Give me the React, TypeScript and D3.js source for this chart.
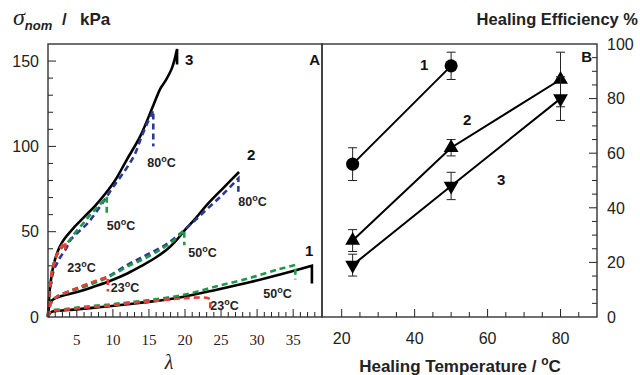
import { useEffect, useRef } from 'react'
import * as d3 from 'd3'

type Pt = [number, number]

// Panel A: nominal stress (kPa) vs stretch λ
const black1: Pt[] = [[1, 0], [1.2, 1.8], [1.5, 3], [3, 3.8], [4.5, 4.3], [7.5, 5.5], [9.2, 6.2], [12, 7.5], [15.2, 9], [19.8, 11.9], [24.4, 16], [29.1, 20.5], [33.7, 25.5], [37.6, 30]]
const black1Drop = 19.7
const green1: Pt[] = [[1, 0], [1.2, 2.5], [1.5, 3.8], [3, 4.5], [6, 6], [9.2, 7.2], [12, 8.5], [15.2, 10], [19.8, 13], [24.4, 18], [29.1, 23], [33, 28], [35.3, 30.5]]
const green1Drop = 22
const red1: Pt[] = [[1, 0], [1.2, 2.5], [1.5, 3.5], [3, 4], [6, 5.5], [9.2, 6.5], [12, 8], [15.2, 9.2], [19.8, 11], [23, 11.3], [23.5, 10.5]]
const red1Drop = 5

const black2: Pt[] = [[1, 0], [1.15, 6], [1.4, 9], [2, 11], [3, 12.5], [4.5, 14], [6, 15.8], [7.5, 18], [9.5, 21], [12, 25.5], [14, 30], [16, 35], [17.5, 39.5], [18.6, 44], [20, 51], [21.5, 58], [23.1, 66], [25.4, 76], [27.5, 85]]
const blue2: Pt[] = [[1, 0], [1.3, 7], [1.7, 10], [2.5, 12.5], [4.5, 16], [6.85, 19.5], [9.2, 23.5], [12.2, 31], [14.5, 36], [16.8, 41], [18.5, 46], [20.7, 54], [23, 63], [25.4, 72.5], [27.4, 81.2]]
const blue2Drop = 73.4
const green2: Pt[] = [[1, 0], [1.3, 7], [1.7, 10], [2.5, 12.5], [4.5, 15.5], [6.85, 19], [9.2, 23], [12.2, 30], [14.5, 34.5], [16.8, 40], [18.5, 45], [19.9, 51]]
const green2Drop = 42
const red2: Pt[] = [[1, 0], [1.3, 7], [1.7, 10], [2.5, 12.5], [4.5, 16], [6.85, 20], [9.3, 23.6]]
const red2Drop = 15

const black3: Pt[] = [[1, 0], [1.1, 8], [1.3, 18], [1.6, 27], [2, 34], [2.5, 40], [3, 44], [3.5, 47], [4.5, 52], [6, 58.5], [7.5, 65], [9, 72.5], [10.3, 80], [11.9, 92], [13.8, 106], [15.6, 124], [16.6, 134], [17.3, 138.5], [18.2, 146], [18.9, 157]]
const black3Drop = 148
const blue3: Pt[] = [[1, 0], [1.2, 12], [1.5, 22], [1.8, 27.5], [2.2, 31], [2.7, 35], [3.5, 40], [4.1, 45], [5, 49], [6.5, 55], [8.2, 64.6], [10, 76], [11.7, 86], [13, 95], [13.8, 103.7], [14.6, 112], [15.6, 121]]
const blue3Drop = 100
const green3: Pt[] = [[1, 0], [1.2, 14], [1.6, 28], [2.2, 36], [3, 41], [3.6, 43], [4.5, 48], [6, 55.5], [6.85, 59.8], [8, 65], [9.15, 70.5]]
const green3Drop = 61
const red3: Pt[] = [[1, 0], [1.2, 14], [1.6, 28], [2.2, 36], [2.8, 41], [3.4, 44]]
const red3Drop = 38

const lambdaTicks = [5, 10, 15, 20, 25, 30, 35]
const stressTicks = [0, 50, 100, 150]

// Panel B: healing efficiency vs temperature
const temps1 = [23, 50]
const eff1 = [56, 92]
const err1 = [6, 5]
const temps2 = [23, 50, 80]
const eff2 = [28, 62, 87]
const err2 = [4, 3, 10]
const temps3 = [23, 50, 80]
const eff3 = [19, 48, 80]
const err3 = [4, 5, 8]
const tempTicks = [20, 40, 60, 80]
const effTicks = [0, 20, 40, 60, 80, 100]

const BLUE = '#2b3990'
const GREEN = '#1c9a4a'
const RED = '#ee3b33'
const SANS = '"Liberation Sans", Arial, sans-serif'
const SERIF = '"Liberation Serif", "Times New Roman", serif'

export default function App() {
  const svgRef = useRef<SVGSVGElement>(null)

  useEffect(() => {
    if (!svgRef.current) return
    const svg = d3.select(svgRef.current)
    svg.selectAll('*').remove()

    const xA = d3.scaleLinear().domain([1, 39]).range([48, 322])
    const yA = d3.scaleLinear().domain([0, 160]).range([317, 44])
    const xB = d3.scaleLinear().domain([14.6, 90]).range([322, 597])
    const yB = d3.scaleLinear().domain([0, 100]).range([317, 44])

    // ---- panel A ----
    const gA = svg.append('g')

    // ticks, drawn inward
    d3.range(1, 39).forEach((v) => {
      const major = v % 5 === 0
      gA.append('line')
        .attr('x1', xA(v)).attr('x2', xA(v))
        .attr('y1', 317).attr('y2', 317 - (major ? 8 : 5))
        .attr('stroke', '#222').attr('stroke-width', 1)
    })
    d3.range(10, 160, 10).forEach((v) => {
      const major = v % 50 === 0
      gA.append('line')
        .attr('x1', 48).attr('x2', 48 + (major ? 8 : 5))
        .attr('y1', yA(v)).attr('y2', yA(v))
        .attr('stroke', '#222').attr('stroke-width', 1)
    })
    lambdaTicks.forEach((v) => {
      gA.append('text')
        .attr('x', xA(v)).attr('y', 345)
        .attr('text-anchor', 'middle').attr('font-family', SERIF).attr('font-size', 15)
        .attr('fill', '#222').text(v)
    })
    stressTicks.forEach((v) => {
      gA.append('text')
        .attr('x', 39).attr('y', yA(v)).attr('dy', '0.36em')
        .attr('text-anchor', 'end').attr('font-family', SANS).attr('font-size', 16)
        .attr('fill', '#222').text(v)
    })

    const lineA = d3.line<Pt>()
      .x((d) => xA(d[0]))
      .y((d) => yA(d[1]))
      .curve(d3.curveCatmullRom.alpha(0.5))
    const withDrop = (pts: Pt[], drop?: number) => {
      const last = pts[pts.length - 1]
      return lineA(pts) + (drop === undefined ? '' : `L${xA(last[0])},${yA(drop)}`)
    }

    const blackCurves: [Pt[], number | undefined][] = [[black1, black1Drop], [black2, undefined], [black3, black3Drop]]
    blackCurves.forEach(([pts, drop]) => {
      gA.append('path')
        .attr('d', withDrop(pts, drop))
        .attr('fill', 'none').attr('stroke', '#000').attr('stroke-width', 2.6)
    })

    const dashed: { pts: Pt[]; drop: number; color: string; temp: string; dx: number; dy: number }[] = [
      { pts: blue3, drop: blue3Drop, color: BLUE, temp: '80', dx: -6, dy: 21 },
      { pts: blue2, drop: blue2Drop, color: BLUE, temp: '80', dx: 0, dy: 14 },
      { pts: green3, drop: green3Drop, color: GREEN, temp: '50', dx: 0, dy: 17 },
      { pts: green2, drop: green2Drop, color: GREEN, temp: '50', dx: 4, dy: 12 },
      { pts: green1, drop: green1Drop, color: GREEN, temp: '50', dx: -32, dy: 19 },
      { pts: red3, drop: red3Drop, color: RED, temp: '23', dx: 2, dy: 20 },
      { pts: red2, drop: red2Drop, color: RED, temp: '23', dx: 3, dy: 1 },
      { pts: red1, drop: red1Drop, color: RED, temp: '23', dx: 0, dy: 2 },
    ]
    dashed.forEach((c) => {
      gA.append('path')
        .attr('d', withDrop(c.pts, c.drop))
        .attr('fill', 'none').attr('stroke', c.color).attr('stroke-width', 2.6)
        .attr('stroke-dasharray', '6,4')
      const last = c.pts[c.pts.length - 1]
      const t = gA.append('text')
        .attr('x', xA(last[0]) + c.dx).attr('y', yA(c.drop) + c.dy)
        .attr('font-family', SANS).attr('font-size', 12.5).attr('font-weight', 'bold')
        .attr('fill', '#222')
      t.append('tspan').text(c.temp)
      t.append('tspan').attr('dy', -5).attr('font-size', 9).text('o')
      t.append('tspan').attr('dy', 5).text('C')
    })

    const curveNums: [string, number, number][] = [['3', 185, 65], ['2', 247, 160], ['1', 305, 256]]
    curveNums.forEach(([s, x, y]) => {
      gA.append('text').attr('x', x).attr('y', y)
        .attr('font-family', SANS).attr('font-size', 15).attr('font-weight', 'bold')
        .attr('fill', '#111').text(s)
    })
    gA.append('text').attr('x', 320).attr('y', 65).attr('text-anchor', 'end')
      .attr('font-family', SANS).attr('font-size', 15).attr('font-weight', 'bold')
      .attr('fill', '#111').text('A')

    gA.append('rect')
      .attr('x', 48).attr('y', 44).attr('width', 274).attr('height', 273)
      .attr('fill', 'none').attr('stroke', '#333').attr('stroke-width', 1.4)

    // ---- panel B ----
    const gB = svg.append('g')
    d3.range(20, 90, 5).forEach((v) => {
      const major = v % 20 === 0
      gB.append('line')
        .attr('x1', xB(v)).attr('x2', xB(v))
        .attr('y1', 317).attr('y2', 317 - (major ? 8 : 5))
        .attr('stroke', '#222').attr('stroke-width', 1)
    })
    d3.range(5, 100, 5).forEach((v) => {
      const major = v % 20 === 0
      gB.append('line')
        .attr('x1', 597).attr('x2', 597 - (major ? 8 : 5))
        .attr('y1', yB(v)).attr('y2', yB(v))
        .attr('stroke', '#222').attr('stroke-width', 1)
    })
    tempTicks.forEach((v) => {
      gB.append('text')
        .attr('x', xB(v)).attr('y', 344)
        .attr('text-anchor', 'middle').attr('font-family', SANS).attr('font-size', 16)
        .attr('fill', '#222').text(v)
    })
    effTicks.forEach((v) => {
      gB.append('text')
        .attr('x', 607).attr('y', yB(v)).attr('dy', '0.36em')
        .attr('font-family', SANS).attr('font-size', 16)
        .attr('fill', '#222').text(v)
    })

    const series: { t: number[]; e: number[]; err: number[]; sym: 'circle' | 'up' | 'down' }[] = [
      { t: temps1, e: eff1, err: err1, sym: 'circle' },
      { t: temps2, e: eff2, err: err2, sym: 'up' },
      { t: temps3, e: eff3, err: err3, sym: 'down' },
    ]
    series.forEach((s) => {
      const pts = s.t.map((t, i) => [t, s.e[i], s.err[i]])
      gB.append('path')
        .attr('d', d3.line<number[]>().x((d) => xB(d[0])).y((d) => yB(d[1]))(pts))
        .attr('fill', 'none').attr('stroke', '#000').attr('stroke-width', 2)
      pts.forEach(([t, e, er]) => {
        const x = xB(t)
        gB.append('line').attr('x1', x).attr('x2', x)
          .attr('y1', yB(e - er)).attr('y2', yB(e + er))
          .attr('stroke', '#222').attr('stroke-width', 1)
        ;[e - er, e + er].forEach((v) => {
          gB.append('line').attr('x1', x - 4.5).attr('x2', x + 4.5)
            .attr('y1', yB(v)).attr('y2', yB(v))
            .attr('stroke', '#222').attr('stroke-width', 1)
        })
        const symType = s.sym === 'circle' ? d3.symbolCircle : d3.symbolTriangle
        const size = s.sym === 'circle' ? 135 : 95
        gB.append('path')
          .attr('d', d3.symbol().type(symType).size(size)())
          .attr('transform', `translate(${x},${yB(e)})${s.sym === 'down' ? ' rotate(180)' : ''}`)
          .attr('fill', '#000')
      })
    })

    const seriesNums: [string, number, number][] = [['1', 420, 70], ['2', 463, 125], ['3', 497, 185]]
    seriesNums.forEach(([s, x, y]) => {
      gB.append('text').attr('x', x).attr('y', y)
        .attr('font-family', SANS).attr('font-size', 15).attr('font-weight', 'bold')
        .attr('fill', '#111').text(s)
    })
    gB.append('text').attr('x', 592).attr('y', 62).attr('text-anchor', 'end')
      .attr('font-family', SANS).attr('font-size', 15).attr('font-weight', 'bold')
      .attr('fill', '#111').text('B')

    gB.append('rect')
      .attr('x', 322).attr('y', 44).attr('width', 275).attr('height', 273)
      .attr('fill', 'none').attr('stroke', '#333').attr('stroke-width', 1.4)

    // ---- titles ----
    const yt = svg.append('text').attr('x', 13).attr('y', 25).attr('fill', '#222')
    yt.append('tspan').attr('font-family', SERIF).attr('font-style', 'italic').attr('font-size', 24).text('σ')
    yt.append('tspan').attr('dy', 5).attr('font-family', SANS).attr('font-style', 'italic')
      .attr('font-weight', 'bold').attr('font-size', 13).text('nom')
    svg.append('text').attr('x', 62).attr('y', 25).attr('fill', '#222')
      .attr('font-family', SANS).attr('font-weight', 'bold').attr('font-size', 17).text('/')
    svg.append('text').attr('x', 80).attr('y', 25).attr('fill', '#222')
      .attr('font-family', SANS).attr('font-weight', 'bold').attr('font-size', 17).text('kPa')

    svg.append('text').attr('x', 169).attr('y', 369).attr('text-anchor', 'middle')
      .attr('font-family', SERIF).attr('font-style', 'italic').attr('font-size', 20)
      .attr('fill', '#222').text('λ')

    svg.append('text').attr('x', 638).attr('y', 25).attr('text-anchor', 'end')
      .attr('font-family', SANS).attr('font-weight', 'bold').attr('font-size', 16.5)
      .attr('fill', '#222').text('Healing Efficiency %')

    const xt = svg.append('text').attr('x', 460).attr('y', 372).attr('text-anchor', 'middle')
      .attr('font-family', SANS).attr('font-weight', 'bold').attr('font-size', 17)
      .attr('fill', '#222')
    xt.append('tspan').text('Healing Temperature /  ')
    xt.append('tspan').attr('dy', -7).attr('font-size', 12).text('o')
    xt.append('tspan').attr('dy', 7).text('C')
  }, [])

  return (
    <svg
      ref={svgRef}
      width={640}
      height={375}
      style={{ position: 'absolute', left: 0, top: 0, background: '#fff' }}
    />
  )
}
